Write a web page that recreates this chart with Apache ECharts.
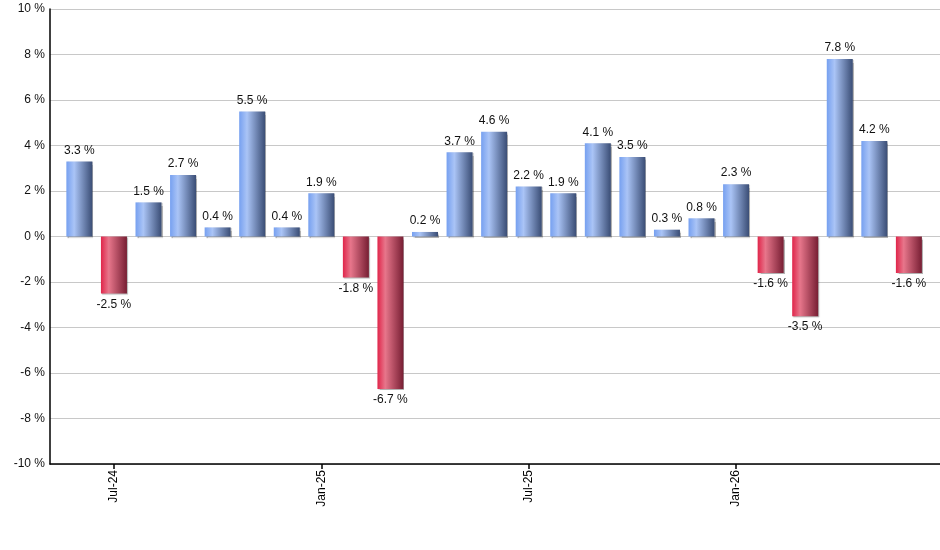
<!DOCTYPE html>
<html>
<head>
<meta charset="utf-8">
<script src="https://cdn.jsdelivr.net/npm/echarts@6/dist/echarts.min.js"></script>
<style>
  html, body { margin: 0; padding: 0; background: #fff; }
  #chart { width: 940px; height: 550px; }
</style>
</head>
<body>
<div id="chart"></div>
<script>
// monthly returns, Jun-24 .. Jun-26
const months = [
  "Jun-24", "Jul-24", "Aug-24", "Sep-24", "Oct-24", "Nov-24", "Dec-24",
  "Jan-25", "Feb-25", "Mar-25", "Apr-25", "May-25", "Jun-25",
  "Jul-25", "Aug-25", "Sep-25", "Oct-25", "Nov-25", "Dec-25",
  "Jan-26", "Feb-26", "Mar-26", "Apr-26", "May-26", "Jun-26",
];
const returns = [
  3.3, -2.5, 1.5, 2.7, 0.4, 5.5, 0.4, 1.9, -1.8, -6.7, 0.2, 3.7, 4.6,
  2.2, 1.9, 4.1, 3.5, 0.3, 0.8, 2.3, -1.6, -3.5, 7.8, 4.2, -1.6,
];
const labelMonths = ["Jul-24", "Jan-25", "Jul-25", "Jan-26"];
const yTicks = [-10, -8, -6, -4, -2, 0, 2, 4, 6, 8, 10];

const blueFill = {
  type: "linear", x: 0, y: 0, x2: 1, y2: 0,
  colorStops: [
    { offset: 0, color: "#76a0f0" },
    { offset: 0.3, color: "#aac4f6" },
    { offset: 1, color: "#3a4d75" },
  ],
};
const redFill = {
  type: "linear", x: 0, y: 0, x2: 1, y2: 0,
  colorStops: [
    { offset: 0, color: "#e0254a" },
    { offset: 0.3, color: "#e7768b" },
    { offset: 1, color: "#771e33" },
  ],
};

const myChart = echarts.init(document.getElementById("chart"));

const tickIdx = labelMonths.map((m) => months.indexOf(m));

const options = {
  animation: false,
  textStyle: { fontFamily: "Liberation Sans, Arial, sans-serif" },
  grid: { left: 50, right: 0, top: 9, bottom: 86 },
  xAxis: {
    type: "value",
    min: -0.85,
    max: 24.9,
    axisLine: { onZero: false, lineStyle: { color: "#000", width: 1.5 } },
    axisTick: {
      customValues: tickIdx,
      length: 5,
      lineStyle: { color: "#000", width: 1.5 },
    },
    axisLabel: {
      customValues: tickIdx,
      rotate: 90,
      margin: 6,
      color: "#000",
      fontSize: 12,
      formatter: (v) => months[Math.round(v)],
    },
    splitLine: { show: false },
  },
  yAxis: {
    type: "value",
    min: yTicks[0],
    max: yTicks[yTicks.length - 1],
    interval: 2,
    axisLine: { show: true, onZero: false, lineStyle: { color: "#000", width: 1.5 } },
    axisTick: { show: false },
    axisLabel: {
      color: "#111",
      fontSize: 12,
      margin: 5,
      formatter: "{value} %",
    },
    splitLine: { lineStyle: { color: "#c8c8c8", width: 1 } },
  },
  series: [
    {
      type: "bar",
      barWidth: 26,
      data: returns.map((v, i) => ({
        value: [i, v],
        itemStyle: {
          color: v >= 0 ? blueFill : redFill,
          shadowColor: "rgba(0,0,0,0.3)",
          shadowOffsetX: 1,
          shadowOffsetY: 1,
          shadowBlur: 1,
        },
        label: { position: v >= 0 ? "top" : "bottom" },
      })),
      label: {
        show: true,
        distance: 5,
        color: "#111",
        fontSize: 12,
        formatter: (p) => p.value[1].toFixed(1) + " %",
      },
    },
  ],
};

myChart.setOption(options);
</script>
</body>
</html>
